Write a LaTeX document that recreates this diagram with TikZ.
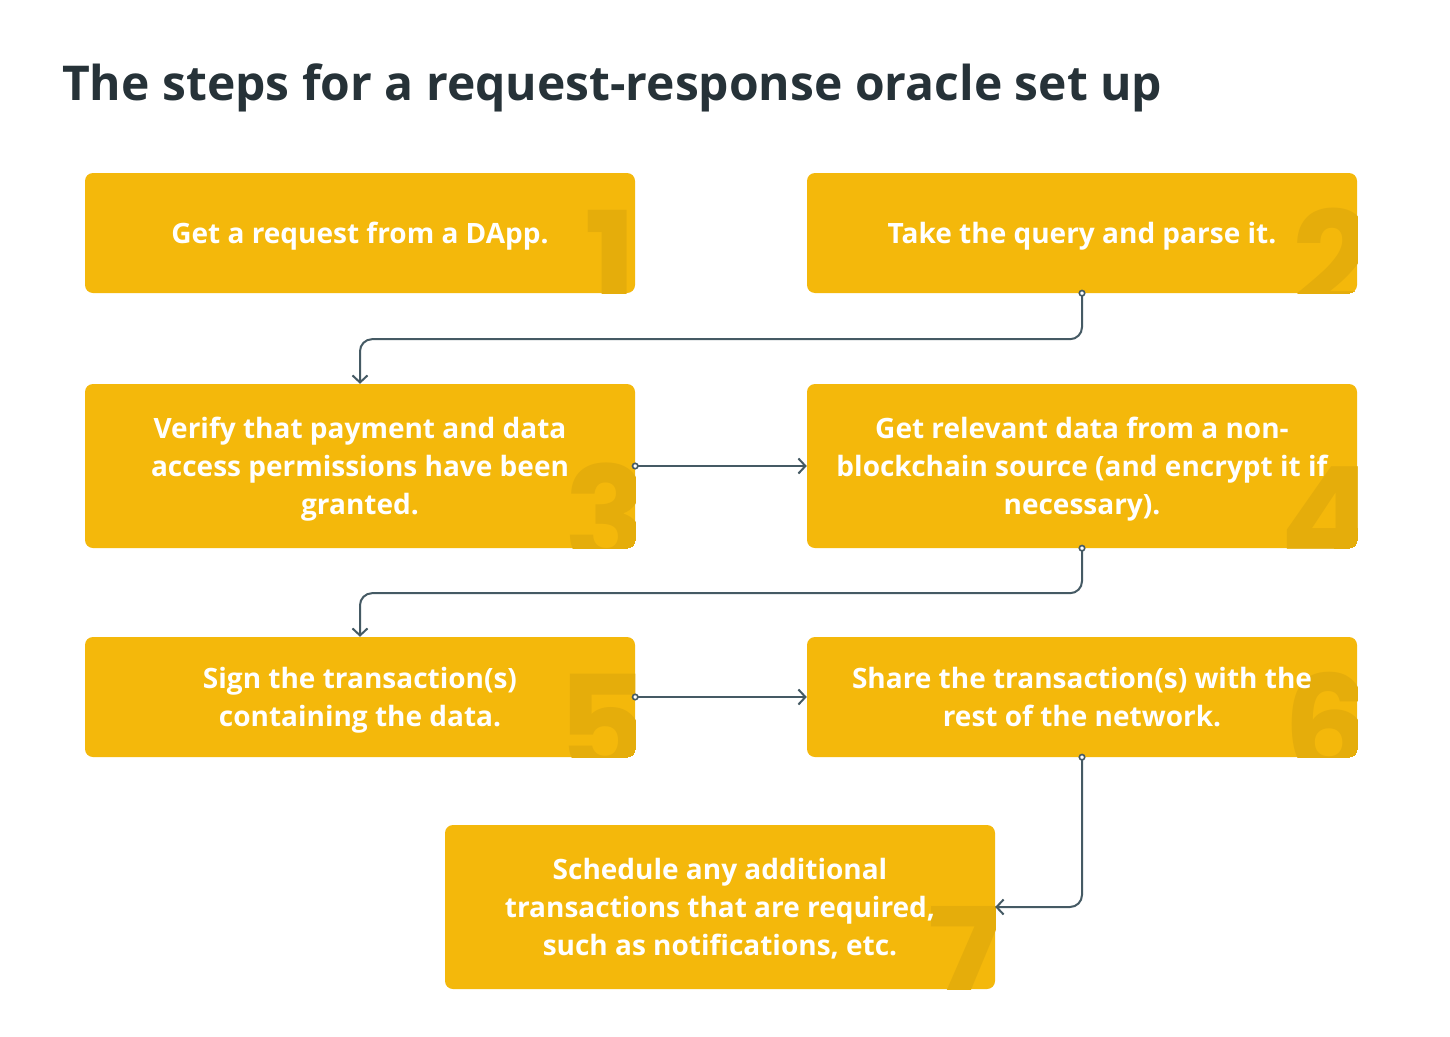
\documentclass[tikz,border=0pt]{standalone}
\usepackage{fontspec}
\usepackage{xcolor}
\usepackage{tikz}
\usetikzlibrary{arrows.meta}
\setmainfont{Open Sans}
\newfontfamily\numfont{Poppins}

\definecolor{boxyellow}{HTML}{F4B80B}
\definecolor{numyellow}{HTML}{E5AD0B}
\definecolor{linkgray}{HTML}{455A64}
\definecolor{titledark}{HTML}{263238}

\begin{document}
\begin{tikzpicture}[x=1pt,y=-1pt,
    stepbox/.style={fill=boxyellow, rounded corners=8pt, minimum width=550pt,
      minimum height=#1, align=center, text=white, text depth=0pt,
      font=\fontsize{28}{38}\selectfont\bfseries, inner sep=0pt},
    bignum/.style={text=numyellow, font=\numfont\fontsize{140}{140}\selectfont\bfseries,
      anchor=base east, inner sep=0pt, minimum width=0pt, minimum height=0pt},
    link/.style={linkgray, line width=2pt, rounded corners=12pt,
      {Circle[open,fill=white,length=7pt,width=7pt,line width=1.6pt]}-{Straight Barb[length=7pt,width=15pt,line width=2pt]},
      shorten <=-3.5pt}]
  \useasboundingbox[fill=white] (0,0) rectangle (1450,1036);

  % title
  \node[anchor=base west, text=titledark, font=\fontsize{48}{48}\selectfont\bfseries, inner sep=0pt]
    (title) at (62,100) {The steps for a request-response oracle set up};

  % steps, each with its big number in the corner
  \node[stepbox=120pt, path picture={\node[bignum] at ([xshift=2pt,yshift=-19pt]path picture bounding box.south east) {1};}]
    (s1) at (360,233) {Get a request from a DApp.};
  \node[stepbox=120pt, path picture={\node[bignum] at ([xshift=16pt,yshift=-19pt]path picture bounding box.south east) {2};}]
    (s2) at (1082,233) {Take the query and parse it.};
  \node[stepbox=164pt, path picture={\node[bignum] at ([xshift=14pt,yshift=-19pt]path picture bounding box.south east) {3};}]
    (s3) at (360,466) {Verify that payment and data\\access permissions have been\\granted.};
  \node[stepbox=164pt, path picture={\node[bignum] at ([xshift=18pt,yshift=-19pt]path picture bounding box.south east) {4};}]
    (s4) at (1082,466) {Get relevant data from a non-\\blockchain source (and encrypt it if\\necessary).};
  \node[stepbox=120pt, path picture={\node[bignum] at ([xshift=14pt,yshift=-19pt]path picture bounding box.south east) {5};}]
    (s5) at (360,697) {Sign the transaction(s)\\containing the data.};
  \node[stepbox=120pt, path picture={\node[bignum] at ([xshift=16pt,yshift=-19pt]path picture bounding box.south east) {6};}]
    (s6) at (1082,697) {Share the transaction(s) with the\\rest of the network.};
  \node[stepbox=164pt, path picture={\node[bignum] at ([xshift=8pt,yshift=-19pt]path picture bounding box.south east) {7};}]
    (s7) at (720,907) {Schedule any additional\\transactions that are required,\\such as notifications, etc.};

  % connectors
  \draw[link] (s2.south) -- ++(0,46) -| (s3.north);
  \draw[link] (s3.east) -- (s4.west);
  \draw[link] (s4.south) -- ++(0,45) -| (s5.north);
  \draw[link] (s5.east) -- (s6.west);
  \draw[link] (s6.south) |- (s7.east);
\end{tikzpicture}
\end{document}
